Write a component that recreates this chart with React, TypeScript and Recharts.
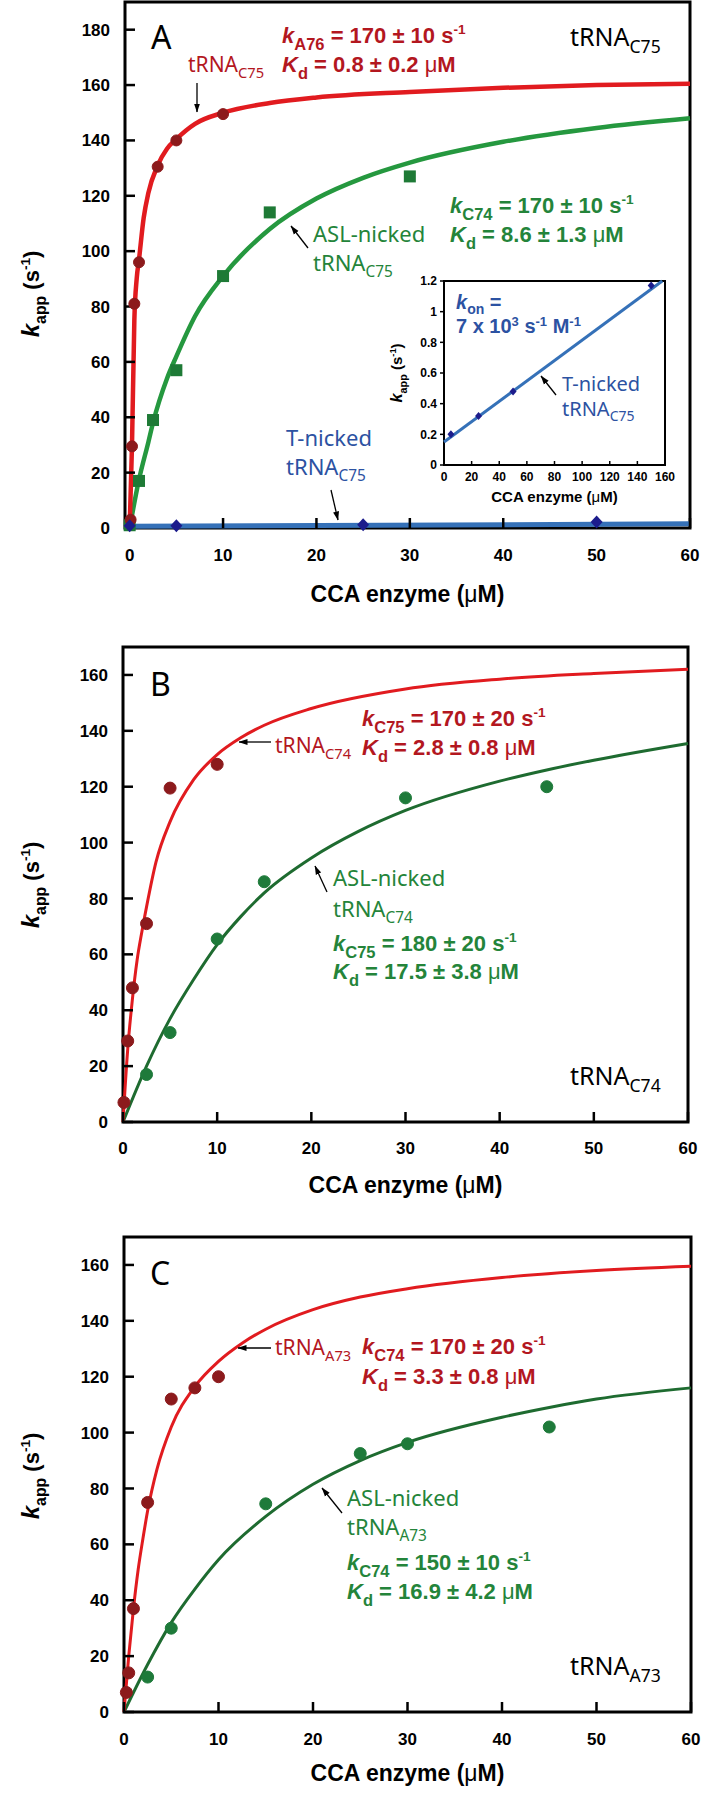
import React from 'react';
import { ComposedChart, Line, Scatter, XAxis, YAxis, ReferenceArea } from 'recharts';

// ---- values: [CCA enzyme µM, kapp s^-1] ----
// panel A, tRNA C75
const aRedDots: [number, number][] = [[0.1, 3], [0.25, 29.5], [0.5, 81], [1, 96], [3, 130.5], [5, 140], [10, 149.5]];
const aRedFit: [number, number][] = [[0, 0], [0.25, 30], [0.5, 75], [0.75, 90], [1, 97], [1.5, 112], [2, 121], [3, 131], [4, 137], [5, 140.5], [7, 146], [10, 150], [15, 153.5], [20, 155.5], [30, 157.5], [40, 159], [50, 160], [60, 160.5]];
const aGreenDots: [number, number][] = [[0, 1], [1, 17], [2.5, 39], [5, 57], [10, 91], [15, 114], [30, 127]];
const aGreenFit: [number, number][] = [[0, 0], [1, 17.5], [2, 31], [2.5, 38], [4, 54], [5, 62], [7, 76.5], [10, 91], [15, 108], [20, 119], [25, 126.5], [30, 132], [40, 139.5], [50, 144.5], [60, 148]];
const aBlueDots: [number, number][] = [[0, 0.8], [5, 0.8], [25, 1.2], [50, 2.2]];
const aBlueFit: [number, number][] = [[0, 0.6], [60, 1.5]];

// inset of panel A, T-nicked tRNA C75
const insetDots: [number, number][] = [[5, 0.2], [25, 0.32], [50, 0.48], [150, 1.17]];
const insetFit: [number, number][] = [[0, 0.15], [158, 1.2]];

// panel B, tRNA C74
const bRedDots: [number, number][] = [[0.1, 7], [0.5, 29], [1, 48], [2.5, 71], [5, 119.5], [10, 128]];
const bRedFit: [number, number][] = [[0, 0], [0.5, 26], [1, 44], [1.5, 58], [2, 68], [2.5, 77], [3.5, 93], [5, 107.5], [7.5, 122.5], [10, 131.5], [12.5, 137.5], [15, 142], [20, 148], [30, 155], [40, 158.5], [50, 160.5], [60, 162]];
const bGreenDots: [number, number][] = [[2.5, 17], [5, 32], [10, 65.5], [15, 86], [30, 116], [45, 120]];
const bGreenFit: [number, number][] = [[0, 0], [2.5, 20], [5, 37], [7.5, 51], [10, 63.5], [12.5, 73.5], [15, 82], [20, 94.5], [25, 104], [30, 111.5], [40, 122], [45, 126], [50, 129.5], [60, 135.5]];

// panel C, tRNA A73
const cRedDots: [number, number][] = [[0.25, 7], [0.5, 14], [1, 37], [2.5, 75], [5, 112], [7.5, 116], [10, 120]];
const cRedFit: [number, number][] = [[0, 0], [0.5, 20], [1, 37], [1.5, 51], [2, 62], [2.5, 72], [3.5, 87], [5, 102], [7.5, 116.5], [10, 125.5], [12.5, 132], [15, 137], [20, 144], [25, 148.5], [30, 151.5], [40, 155.5], [50, 158], [60, 159.5]];
const cGreenDots: [number, number][] = [[2.5, 12.5], [5, 30], [15, 74.5], [25, 92.5], [30, 96], [45, 102]];
const cGreenFit: [number, number][] = [[0, 0], [2.5, 17], [5, 32], [7.5, 44], [10, 54.5], [15, 70], [20, 81.5], [25, 90], [30, 96.5], [40, 105.5], [45, 109], [50, 112], [60, 116]];

const xTicks = [0, 10, 20, 30, 40, 50, 60];
const aYTicks = [0, 20, 40, 60, 80, 100, 120, 140, 160, 180];
const bcYTicks = [0, 20, 40, 60, 80, 100, 120, 140, 160];
const insetXTicks = [0, 20, 40, 60, 80, 100, 120, 140, 160];
const insetYTicks = [0, 0.2, 0.4, 0.6, 0.8, 1, 1.2];

const pts = (a: [number, number][]) => a.map(([x, y]) => ({ x, y }));

const ARIAL = "'Liberation Sans', Arial, sans-serif";
const SANS = "'Noto Sans', 'Open Sans', sans-serif";

const RED = '#E11B1F';
const RED_DOT = '#8C1A1C';
const RED_TXT = '#B3171F';
const GREEN_A = '#25983F';
const GREEN_SQ = '#1E7A36';
const GREEN_BC = '#1E6B30';
const GREEN_DOT = '#1E7A3A';
const GREEN_TXT = '#24843A';
const BLUE = '#3571B8';
const BLUE_DIA = '#1C1C8C';
const BLUE_TXT = '#2C52A2';

const tickStyle = { fill: '#000', fontSize: 17, fontWeight: 700, fontFamily: ARIAL };
const tickLine = { stroke: '#000', strokeWidth: 2.5 };

const circle = (fill: string, r: number) => (p: any) => (
  <circle cx={p.cx} cy={p.cy} r={r} fill={fill} stroke={fill} strokeWidth={1} />
);
const square = (fill: string, s: number) => (p: any) => (
  <rect x={p.cx - s / 2} y={p.cy - s / 2} width={s} height={s} fill={fill} />
);
const diamond = (fill: string, w: number, h: number) => (p: any) => (
  <polygon
    points={`${p.cx},${p.cy - h / 2} ${p.cx + w / 2},${p.cy} ${p.cx},${p.cy + h / 2} ${p.cx - w / 2},${p.cy}`}
    fill={fill}
  />
);

interface PanelProps {
  top: number;
  height: number;
  plotTop: number;
  plotBottom: number;
  plotLeft: number;
  plotRight: number;
  xMin: number;
  yMax: number;
  yTicks: number[];
  labelGap: number;
  children: React.ReactNode;
}

const Panel = ({ top, height, plotTop, plotBottom, plotLeft, plotRight, xMin, yMax, yTicks, labelGap, children }: PanelProps) => (
  <div style={{ position: 'absolute', left: 0, top, width: 701, height }}>
    <ComposedChart
      width={701}
      height={height}
      margin={{ top: plotTop - top, right: 701 - plotRight, bottom: top + height - plotBottom - 60, left: 0 }}
    >
      <XAxis
        type="number"
        dataKey="x"
        domain={[xMin, 60]}
        ticks={xTicks}
        height={60}
        axisLine={false}
        tickSize={-10}
        tickMargin={labelGap}
        tickLine={tickLine}
        tick={tickStyle}
      />
      <YAxis
        type="number"
        dataKey="y"
        domain={[0, yMax]}
        ticks={yTicks}
        width={plotLeft}
        axisLine={false}
        tickSize={-10}
        tickMargin={25}
        tickLine={tickLine}
        tick={tickStyle}
      />
      <ReferenceArea x1={xMin} x2={60} y1={0} y2={yMax} fill="none" stroke="#000" strokeWidth={3} />
      {children}
    </ComposedChart>
  </div>
);

const Arrow = ({ x1, y1, x2, y2 }: { x1: number; y1: number; x2: number; y2: number }) => (
  <line x1={x1} y1={y1} x2={x2} y2={y2} stroke="#000" strokeWidth={1.3} markerEnd="url(#ah)" />
);

const Tag = ({ x, y, main, sub, color, fs }: { x: number; y: number; main: string; sub: string; color: string; fs: number }) => (
  <text x={x} y={y} fill={color} fontFamily={SANS} fontSize={fs}>
    {main}
    <tspan fontSize={fs * 0.7} dy={fs * 0.27}>{sub}</tspan>
  </text>
);

interface EqProps {
  x: number;
  y: number;
  color: string;
  k: string;
  sub: string;
  rest: string;
  sup?: string;
  mu?: boolean;
  fs?: number;
}

const Eq = ({ x, y, color, k, sub, rest, sup, mu, fs = 22 }: EqProps) => (
  <text x={x} y={y} fill={color} fontFamily={ARIAL} fontWeight="bold" fontSize={fs}>
    <tspan fontStyle="italic">{k}</tspan>
    <tspan fontSize={fs * 0.75} dy={fs * 0.3}>{sub}</tspan>
    <tspan dy={-fs * 0.3}>{rest}</tspan>
    {sup && <tspan fontSize={fs * 0.62} dy={-fs * 0.4}>{sup}</tspan>}
    {mu && <tspan fontWeight="normal">μ</tspan>}
    {mu && <tspan>M</tspan>}
  </text>
);

const YTitle = ({ cx, cy, fs }: { cx: number; cy: number; fs: number }) => (
  <text transform={`translate(${cx},${cy}) rotate(-90)`} textAnchor="middle" fontFamily={ARIAL} fontWeight="bold" fontSize={fs}>
    <tspan fontStyle="italic" fontSize={fs * 1.1}>k</tspan>
    <tspan fontSize={fs * 0.72} dy={fs * 0.3}>app</tspan>
    <tspan dy={-fs * 0.3}> (s</tspan>
    <tspan fontSize={fs * 0.62} dy={-fs * 0.4}>-1</tspan>
    <tspan dy={fs * 0.4}>)</tspan>
  </text>
);

const XTitle = ({ cx, y, fs }: { cx: number; y: number; fs: number }) => (
  <text x={cx} y={y} textAnchor="middle" fontFamily={ARIAL} fontWeight="bold" fontSize={fs}>
    CCA enzyme (<tspan fontWeight="normal">μ</tspan>M)
  </text>
);

const App = () => (
  <div style={{ position: 'absolute', left: 0, top: 0, width: 701, height: 1800, background: '#fff', overflow: 'hidden' }}>
    {/* A */}
    <Panel top={0} height={620} plotTop={2} plotBottom={528} plotLeft={125} plotRight={690} xMin={-0.5} yMax={190} yTicks={aYTicks} labelGap={31}>
      <Line data={pts(aBlueFit)} dataKey="y" type="linear" stroke={BLUE} strokeWidth={5} dot={false} isAnimationActive={false} />
      <Line data={pts(aGreenFit)} dataKey="y" type="monotone" stroke={GREEN_A} strokeWidth={4.5} dot={false} isAnimationActive={false} />
      <Line data={pts(aRedFit)} dataKey="y" type="monotone" stroke={RED} strokeWidth={4.5} dot={false} isAnimationActive={false} />
      <Scatter data={pts(aGreenDots)} dataKey="y" shape={square(GREEN_SQ, 12)} isAnimationActive={false} />
      <Scatter data={pts(aRedDots)} dataKey="y" shape={circle(RED_DOT, 5.5)} isAnimationActive={false} />
      <Scatter data={pts(aBlueDots)} dataKey="y" shape={diamond(BLUE_DIA, 12, 13)} isAnimationActive={false} />
    </Panel>

    {/* inset */}
    <div style={{ position: 'absolute', left: 444, top: 281, width: 221, height: 184, background: '#fff' }} />
    <div style={{ position: 'absolute', left: 380, top: 270, width: 300, height: 250 }}>
      <ComposedChart width={300} height={250} margin={{ top: 11, right: 15, bottom: 25, left: 0 }}>
        <XAxis
          type="number"
          dataKey="x"
          domain={[0, 160]}
          ticks={insetXTicks}
          height={30}
          axisLine={false}
          tickSize={-4}
          tickMargin={11}
          tickLine={{ stroke: '#000', strokeWidth: 1.5 }}
          tick={{ ...tickStyle, fontSize: 12 }}
        />
        <YAxis
          type="number"
          dataKey="y"
          domain={[0, 1.2]}
          ticks={insetYTicks}
          width={64}
          axisLine={false}
          tickSize={4}
          tickMargin={3}
          tickLine={{ stroke: '#000', strokeWidth: 1.5 }}
          tick={{ ...tickStyle, fontSize: 12 }}
        />
        <ReferenceArea x1={0} x2={160} y1={0} y2={1.2} fill="none" stroke="#000" strokeWidth={2} />
        <Line data={pts(insetFit)} dataKey="y" type="linear" stroke={BLUE} strokeWidth={3} dot={false} isAnimationActive={false} />
        <Scatter data={pts(insetDots)} dataKey="y" shape={diamond(BLUE_DIA, 7, 8)} isAnimationActive={false} />
      </ComposedChart>
    </div>

    {/* B */}
    <Panel top={600} height={620} plotTop={647} plotBottom={1122} plotLeft={123} plotRight={688} xMin={0} yMax={170} yTicks={bcYTicks} labelGap={30}>
      <Line data={pts(bGreenFit)} dataKey="y" type="monotone" stroke={GREEN_BC} strokeWidth={3} dot={false} isAnimationActive={false} />
      <Line data={pts(bRedFit)} dataKey="y" type="monotone" stroke={RED} strokeWidth={3} dot={false} isAnimationActive={false} />
      <Scatter data={pts(bGreenDots)} dataKey="y" shape={circle(GREEN_DOT, 6)} isAnimationActive={false} />
      <Scatter data={pts(bRedDots)} dataKey="y" shape={circle(RED_DOT, 6)} isAnimationActive={false} />
    </Panel>

    {/* C */}
    <Panel top={1190} height={600} plotTop={1237} plotBottom={1712} plotLeft={124} plotRight={691} xMin={0} yMax={170} yTicks={bcYTicks} labelGap={31}>
      <Line data={pts(cGreenFit)} dataKey="y" type="monotone" stroke={GREEN_BC} strokeWidth={3} dot={false} isAnimationActive={false} />
      <Line data={pts(cRedFit)} dataKey="y" type="monotone" stroke={RED} strokeWidth={3} dot={false} isAnimationActive={false} />
      <Scatter data={pts(cGreenDots)} dataKey="y" shape={circle(GREEN_DOT, 6)} isAnimationActive={false} />
      <Scatter data={pts(cRedDots)} dataKey="y" shape={circle(RED_DOT, 6)} isAnimationActive={false} />
    </Panel>

    {/* text and arrows */}
    <svg width={701} height={1800} style={{ position: 'absolute', left: 0, top: 0, pointerEvents: 'none' }}>
      <defs>
        <marker id="ah" markerWidth="9" markerHeight="7" refX="8.5" refY="3.5" orient="auto" markerUnits="userSpaceOnUse">
          <path d="M0,0.5 L9,3.5 L0,6.5 z" fill="#000" />
        </marker>
      </defs>

      {/* panel A */}
      <text x={151} y={49} fontFamily={SANS} fontSize={32}>A</text>
      <Tag x={188} y={72} main="tRNA" sub="C75" color={RED_TXT} fs={21} />
      <Arrow x1={197} y1={83} x2={197} y2={112} />
      <Eq x={282} y={43} color={RED_TXT} k="k" sub="A76" rest=" = 170 ± 10 s" sup="-1" />
      <Eq x={282} y={72} color={RED_TXT} k="K" sub="d" rest=" = 0.8 ± 0.2 " mu />
      <Tag x={570} y={46} main="tRNA" sub="C75" color="#000" fs={25} />
      <Eq x={450} y={213} color={GREEN_TXT} k="k" sub="C74" rest=" = 170 ± 10 s" sup="-1" />
      <Eq x={450} y={242} color={GREEN_TXT} k="K" sub="d" rest=" = 8.6 ± 1.3 " mu />
      <text x={313} y={242} fill={GREEN_TXT} fontFamily={SANS} fontSize={22}>ASL-nicked</text>
      <Tag x={313} y={271} main="tRNA" sub="C75" color={GREEN_TXT} fs={22} />
      <Arrow x1={308} y1={248} x2={291} y2={226} />
      <text x={286} y={446} fill={BLUE_TXT} fontFamily={SANS} fontSize={22}>T-nicked</text>
      <Tag x={286} y={475} main="tRNA" sub="C75" color={BLUE_TXT} fs={22} />
      <Arrow x1={331} y1={490} x2={338} y2={520} />
      <YTitle cx={39} cy={294} fs={22} />
      <XTitle cx={407.5} y={602} fs={23} />

      {/* inset */}
      <text x={456} y={309} fill={BLUE_TXT} fontFamily={ARIAL} fontWeight="bold" fontSize={20}>
        <tspan fontStyle="italic">k</tspan>
        <tspan fontSize={14} dy={5}>on</tspan>
        <tspan dy={-5}> =</tspan>
      </text>
      <text x={456} y={333} fill={BLUE_TXT} fontFamily={ARIAL} fontWeight="bold" fontSize={20}>
        7 x 10<tspan fontSize={13} dy={-7}>3</tspan>
        <tspan dy={7}> s</tspan>
        <tspan fontSize={13} dy={-7}>-1</tspan>
        <tspan dy={7}> M</tspan>
        <tspan fontSize={13} dy={-7}>-1</tspan>
      </text>
      <text x={562} y={391} fill={BLUE_TXT} fontFamily={SANS} fontSize={20}>T-nicked</text>
      <Tag x={562} y={416} main="tRNA" sub="C75" color={BLUE_TXT} fs={20} />
      <Arrow x1={556} y1={395} x2={541} y2={376} />
      <YTitle cx={402} cy={373} fs={15} />
      <XTitle cx={554.5} y={502} fs={15} />

      {/* panel B */}
      <text x={150} y={696} fontFamily={SANS} fontSize={32}>B</text>
      <Tag x={275} y={753} main="tRNA" sub="C74" color={RED_TXT} fs={21} />
      <Arrow x1={271} y1={742} x2={239} y2={742} />
      <Eq x={362} y={726} color={RED_TXT} k="k" sub="C75" rest=" = 170 ± 20 s" sup="-1" />
      <Eq x={362} y={755} color={RED_TXT} k="K" sub="d" rest=" = 2.8 ± 0.8 " mu />
      <text x={333} y={886} fill={GREEN_TXT} fontFamily={SANS} fontSize={22}>ASL-nicked</text>
      <Tag x={333} y={917} main="tRNA" sub="C74" color={GREEN_TXT} fs={22} />
      <Arrow x1={327} y1={892} x2={315} y2={866} />
      <Eq x={333} y={951} color={GREEN_TXT} k="k" sub="C75" rest=" = 180 ± 20 s" sup="-1" />
      <Eq x={333} y={979} color={GREEN_TXT} k="K" sub="d" rest=" = 17.5 ± 3.8 " mu />
      <Tag x={570} y={1085} main="tRNA" sub="C74" color="#000" fs={25} />
      <YTitle cx={39} cy={885} fs={22} />
      <XTitle cx={405.5} y={1193} fs={23} />

      {/* panel C */}
      <text x={150} y={1285} fontFamily={SANS} fontSize={32}>C</text>
      <Tag x={275} y={1355} main="tRNA" sub="A73" color={RED_TXT} fs={21} />
      <Arrow x1={271} y1={1348} x2={238} y2={1348} />
      <Eq x={362} y={1354} color={RED_TXT} k="k" sub="C74" rest=" = 170 ± 20 s" sup="-1" />
      <Eq x={362} y={1384} color={RED_TXT} k="K" sub="d" rest=" = 3.3 ± 0.8 " mu />
      <text x={347} y={1506} fill={GREEN_TXT} fontFamily={SANS} fontSize={22}>ASL-nicked</text>
      <Tag x={347} y={1535} main="tRNA" sub="A73" color={GREEN_TXT} fs={22} />
      <Arrow x1={342} y1={1513} x2={322} y2={1488} />
      <Eq x={347} y={1570} color={GREEN_TXT} k="k" sub="C74" rest=" = 150 ± 10 s" sup="-1" />
      <Eq x={347} y={1599} color={GREEN_TXT} k="K" sub="d" rest=" = 16.9 ± 4.2 " mu />
      <Tag x={570} y={1675} main="tRNA" sub="A73" color="#000" fs={25} />
      <YTitle cx={39} cy={1476} fs={22} />
      <XTitle cx={407.5} y={1781} fs={23} />
    </svg>
  </div>
);

export default App;
